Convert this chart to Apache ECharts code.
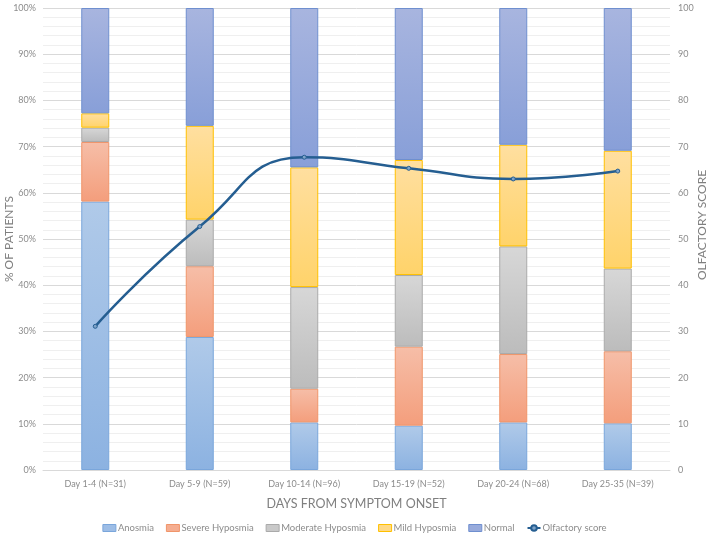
<!DOCTYPE html>
<html><head><meta charset="utf-8">
<script src="https://cdn.jsdelivr.net/npm/echarts@6/dist/echarts.min.js"></script>
<style>html,body{margin:0;padding:0;background:#fff}#c{width:709px;height:534px}</style>
</head><body><div id="c"></div>
<script>
var categories = ['Day 1-4 (N=31)','Day 5-9 (N=59)','Day 10-14 (N=96)','Day 15-19 (N=52)','Day 20-24 (N=68)','Day 25-35 (N=39)'];
var anosmia = [58.1, 28.8, 10.3, 9.6, 10.3, 10.1];
var severe = [12.9, 15.3, 7.3, 17.1, 14.8, 15.6];
var moderate = [3.1, 10.1, 22.0, 15.5, 23.3, 17.9];
var mild = [3.1, 20.3, 25.9, 24.9, 22.0, 25.5];
var normal = [22.8, 25.5, 34.5, 32.9, 29.6, 30.9];
var olfactory = [31.1, 52.7, 67.7, 65.3, 63.0, 64.7];

var FONT = 'Lato';
function grad(top, bottom){
  return {type:'linear',x:0,y:0,x2:0,y2:1,colorStops:[{offset:0,color:top},{offset:1,color:bottom}]};
}
function barSeries(name, data, top, bottom, border){
  return {name:name,type:'bar',stack:'s',barWidth:28,data:data,
    itemStyle:{color:grad(top,bottom),borderColor:border,borderWidth:1},
    emphasis:{disabled:true}};
}
var chart = echarts.init(document.getElementById('c'));
chart.setOption({
  animation:false,
  textStyle:{fontFamily:FONT},
  grid:{left:43,right:39,top:8,bottom:64,containLabel:false,outerBoundsMode:'none'},
  legend:{top:518,left:'center',itemWidth:13,itemHeight:7,itemGap:12,
    textStyle:{color:'#8c8c8c',fontSize:9.5,fontFamily:FONT,padding:[0,0,0,-3]},
    data:[{name:'Anosmia',icon:'rect',itemStyle:{color:'#9dbde6',borderColor:'#7aa6db',borderWidth:1}},
          {name:'Severe Hyposmia',icon:'rect',itemStyle:{color:'#f5ad90',borderColor:'#f0956a',borderWidth:1}},
          {name:'Moderate Hyposmia',icon:'rect',itemStyle:{color:'#c9c9c9',borderColor:'#aaaaaa',borderWidth:1}},
          {name:'Mild Hyposmia',icon:'rect',itemStyle:{color:'#ffd985',borderColor:'#ffc000',borderWidth:1}},
          {name:'Normal',icon:'rect',itemStyle:{color:'#98abdc',borderColor:'#6f8fcf',borderWidth:1}},
          {name:'Olfactory score'}]},
  xAxis:{type:'category',data:categories,
    axisLine:{lineStyle:{color:'#d9d9d9'}},axisTick:{show:false},
    axisLabel:{color:'#8c8c8c',fontSize:9,margin:10},
    name:'DAYS FROM SYMPTOM ONSET',nameLocation:'middle',nameGap:27,
    nameTextStyle:{color:'#7f7f7f',fontSize:12.5}},
  yAxis:[{type:'value',min:0,max:100,interval:10,
      axisLabel:{color:'#8c8c8c',fontSize:9,margin:7,formatter:function(v){return v+'%';}},
      axisLine:{show:false},axisTick:{show:false},
      splitLine:{lineStyle:{color:'#d9d9d9',width:1}},
      minorTick:{show:false,splitNumber:5},
      minorSplitLine:{show:true,lineStyle:{color:'#efefef',width:1}},
      name:'% OF PATIENTS',nameLocation:'middle',nameGap:28,nameRotate:90,nameMoveOverlap:false,
      nameTextStyle:{color:'#7f7f7f',fontSize:12}},
    {type:'value',min:0,max:100,interval:10,position:'right',
      axisLabel:{color:'#8c8c8c',fontSize:9,margin:8},
      axisLine:{show:false},axisTick:{show:false},splitLine:{show:false},
      name:'OLFACTORY SCORE',nameLocation:'middle',nameGap:26,nameRotate:90,nameMoveOverlap:false,
      nameTextStyle:{color:'#7f7f7f',fontSize:12,padding:[0,0,0,28]}}],
  series:[
    barSeries('Anosmia',anosmia,'#b0cae9','#8cb2e1','#7aa6db'),
    barSeries('Severe Hyposmia',severe,'#f6bea8','#f49e7c','#f0956a'),
    barSeries('Moderate Hyposmia',moderate,'#d7d7d7','#bcbcbc','#aaaaaa'),
    barSeries('Mild Hyposmia',mild,'#ffdfa0','#ffd36a','#ffc000'),
    barSeries('Normal',normal,'#a8b5df','#889fd8','#6f8fcf'),
    {name:'Olfactory score',type:'line',yAxisIndex:1,data:olfactory,smooth:0.5,
      symbol:'circle',symbolSize:4,
      lineStyle:{color:'#255e91',width:2.5},
      itemStyle:{color:'#7fa3c8',borderColor:'#255e91',borderWidth:1},
      emphasis:{disabled:true}}
  ]
});
</script></body></html>
